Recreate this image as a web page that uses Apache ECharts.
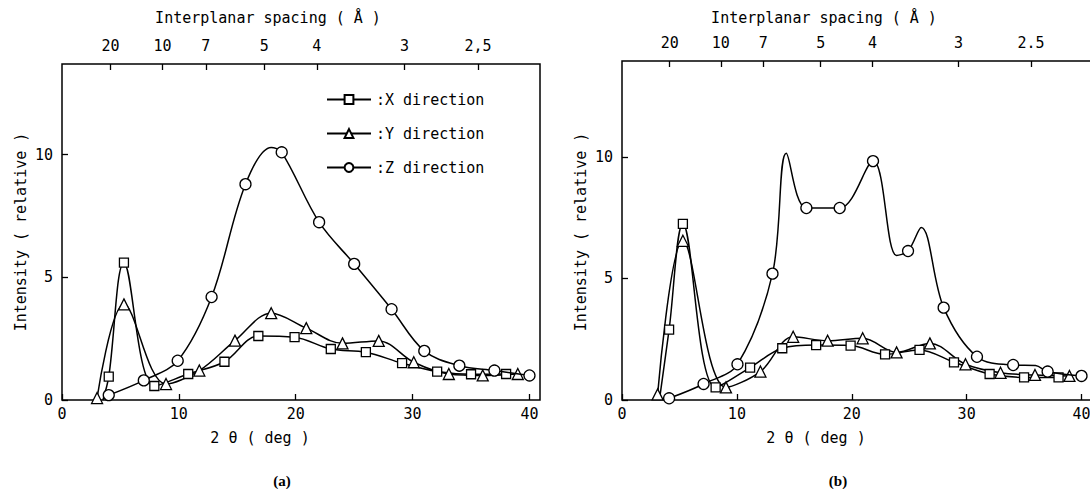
<!DOCTYPE html>
<html>
<head>
<meta charset="utf-8">
<script src="https://cdn.jsdelivr.net/npm/echarts@6/dist/echarts.min.js"></script>
<style>
html, body { margin: 0; padding: 0; background: #fff; }
#chart { width: 1090px; height: 489px; }
</style>
</head>
<body>
<div id="chart"></div>
<script>
// panel (a)
let aX_2t  = [3.5, 4, 5.3, 7.9, 10.8, 13.9, 16.8, 19.9, 23, 26, 29.1, 32.1, 35, 38];
let aX_int = [0, 0.95, 5.6, 0.57, 1.06, 1.56, 2.61, 2.56, 2.08, 1.95, 1.5, 1.16, 1.05, 1.06];
let aX_bare = [0];
let aY_2t  = [3, 5.3, 8.9, 11.75, 14.8, 17.9, 20.9, 24, 27.1, 30.1, 33.1, 36, 39];
let aY_int = [0.08, 3.9, 0.65, 1.2, 2.42, 3.54, 2.93, 2.31, 2.41, 1.54, 1.06, 1.0, 1.06];
let aY_bare = [];
let aZ_2t  = [4, 7, 9.9, 12.8, 15.7, 17.9, 18.8, 22, 25, 28.2, 31, 34, 37, 40];
let aZ_int = [0.2, 0.8, 1.6, 4.2, 8.8, 10.3, 10.1, 7.25, 5.55, 3.7, 2.0, 1.4, 1.2, 1.0];
let aZ_bare = [5];

// panel (b)
let bX_2t  = [3.3, 4.1, 5.3, 8.15, 11.15, 13.95, 16.9, 19.9, 22.9, 25.9, 28.9, 32, 35, 38];
let bX_int = [0.15, 2.9, 7.25, 0.52, 1.33, 2.13, 2.26, 2.24, 1.88, 2.06, 1.55, 1.07, 0.93, 0.93];
let bX_bare = [0];
let bY_2t  = [3.1, 5.3, 9.05, 12.05, 14.9, 17.9, 20.95, 23.9, 26.8, 29.9, 32.95, 35.95, 38.95];
let bY_int = [0.23, 6.55, 0.52, 1.17, 2.6, 2.44, 2.54, 1.96, 2.33, 1.47, 1.12, 1.03, 0.99];
let bY_bare = [];
let bZ_2t  = [4.1, 7.1, 10.05, 13.1, 14.3, 16.05, 18.95, 21.85, 23.9, 24.9, 26.05, 28, 30.9, 34.05, 36, 37.05, 40];
let bZ_int = [0.07, 0.66, 1.47, 5.2, 10.15, 7.9, 7.9, 9.83, 5.95, 6.13, 7.1, 3.8, 1.78, 1.44, 1.42, 1.17, 0.99];
let bZ_bare = [4, 8, 10, 14];

// axis ticks
let xTicks = [0, 10, 20, 30, 40];
let yTicks = [0, 5, 10];
// interplanar spacing ticks, placed where they sit on the 2-theta scale
let dPos = [4.15, 8.6, 12.3, 17.3, 21.8, 29.3, 35.6];
let dLabelsA = ['20', '10', '7', '5', '4', '3', '2,5'];
let dLabelsB = ['20', '10', '7', '5', '4', '3', '2.5'];

const mono = '"DejaVu Sans Mono", "Liberation Mono", monospace';

function pts(xs, ys, bare) {
    return xs.map((x, i) => bare.indexOf(i) >= 0
        ? { value: [x, ys[i]], symbol: 'none' }
        : [x, ys[i]]);
}

function line(name, sym, size, xi, yi, data) {
    return {
        name: name,
        type: 'line',
        xAxisIndex: xi,
        yAxisIndex: yi,
        smooth: 0.35,
        symbol: sym,
        symbolSize: size,
        showAllSymbol: true,
        lineStyle: { color: '#000', width: 1.5 },
        itemStyle: { color: '#fff', borderColor: '#000', borderWidth: 1.3 },
        emphasis: { disabled: true },
        z: sym === 'circle' ? 3 : 2,
        data: data
    };
}

function bottomAxis(gi, max) {
    return {
        type: 'value', gridIndex: gi, min: 0, max: max, position: 'bottom',
        axisLine: { show: false },
        axisTick: { inside: true, length: 6, customValues: xTicks, lineStyle: { color: '#000', width: 1.3 } },
        axisLabel: { customValues: xTicks, color: '#000', fontFamily: mono, fontSize: 15, margin: 6 },
        splitLine: { show: false }
    };
}

function topAxis(gi, max, labels) {
    return {
        type: 'value', gridIndex: gi, min: 0, max: max, position: 'top',
        axisLine: { show: false },
        axisTick: { inside: true, length: 6, customValues: dPos, lineStyle: { color: '#000', width: 1.3 } },
        axisLabel: {
            customValues: dPos, color: '#000', fontFamily: mono, fontSize: 15, margin: 11,
            formatter: v => {
                let k = dPos.findIndex(p => Math.abs(p - v) < 1e-6);
                return k >= 0 ? labels[k] : '';
            }
        },
        splitLine: { show: false }
    };
}

function leftAxis(gi, max) {
    return {
        type: 'value', gridIndex: gi, min: 0, max: max,
        axisLine: { show: false },
        axisTick: { inside: true, length: 6, customValues: yTicks, lineStyle: { color: '#000', width: 1.3 } },
        axisLabel: { customValues: yTicks, color: '#000', fontFamily: mono, fontSize: 15, margin: 9 },
        splitLine: { show: false }
    };
}

function txt(x, y, s, rot) {
    return {
        type: 'text', x: x, y: y, rotation: rot || 0,
        style: { text: s, fill: '#000', font: '15px ' + mono, align: 'center', verticalAlign: 'middle' }
    };
}

let chart = echarts.init(document.getElementById('chart'), null, { renderer: 'svg' });

chart.setOption({
    backgroundColor: '#fff',
    animation: false,
    grid: [
        { left: 62, top: 64, width: 478, height: 336, show: true, borderColor: '#000', borderWidth: 1.5, outerBoundsMode: 'none' },
        { left: 622, top: 61, width: 471, height: 339, show: true, borderColor: '#000', borderWidth: 1.5, outerBoundsMode: 'none' }
    ],
    xAxis: [
        bottomAxis(0, 40.9),
        topAxis(0, 40.9, dLabelsA),
        bottomAxis(1, 41),
        topAxis(1, 41, dLabelsB)
    ],
    yAxis: [
        leftAxis(0, 13.7),
        leftAxis(1, 13.95)
    ],
    legend: {
        left: 326, top: 92, orient: 'vertical', padding: 0,
        itemWidth: 44, itemHeight: 11, itemGap: 19,
        data: ['X direction', 'Y direction', 'Z direction'],
        formatter: ':{name}',
        textStyle: { color: '#000', fontFamily: mono, fontSize: 15 },
        selectedMode: false
    },
    graphic: [
        txt(268, 18, 'Interplanar spacing ( Å )'),
        txt(824, 18, 'Interplanar spacing ( Å )'),
        txt(260, 438, '2 θ ( deg )'),
        txt(816, 438, '2 θ ( deg )'),
        txt(21, 232, 'Intensity ( relative )', Math.PI / 2),
        txt(581, 232, 'Intensity ( relative )', Math.PI / 2),
        { type: 'text', x: 282, y: 481, style: { text: '(a)', fill: '#000', font: 'bold 15px "Liberation Serif", serif', align: 'center', verticalAlign: 'middle' } },
        { type: 'text', x: 838, y: 481, style: { text: '(b)', fill: '#000', font: 'bold 15px "Liberation Serif", serif', align: 'center', verticalAlign: 'middle' } }
    ],
    series: [
        line('X direction', 'rect', 9, 0, 0, pts(aX_2t, aX_int, aX_bare)),
        line('Y direction', 'triangle', 11, 0, 0, pts(aY_2t, aY_int, aY_bare)),
        line('Z direction', 'circle', 11, 0, 0, pts(aZ_2t, aZ_int, aZ_bare)),
        line('X direction', 'rect', 9, 2, 1, pts(bX_2t, bX_int, bX_bare)),
        line('Y direction', 'triangle', 11, 2, 1, pts(bY_2t, bY_int, bY_bare)),
        line('Z direction', 'circle', 11, 2, 1, pts(bZ_2t, bZ_int, bZ_bare))
    ]
});
</script>
</body>
</html>
